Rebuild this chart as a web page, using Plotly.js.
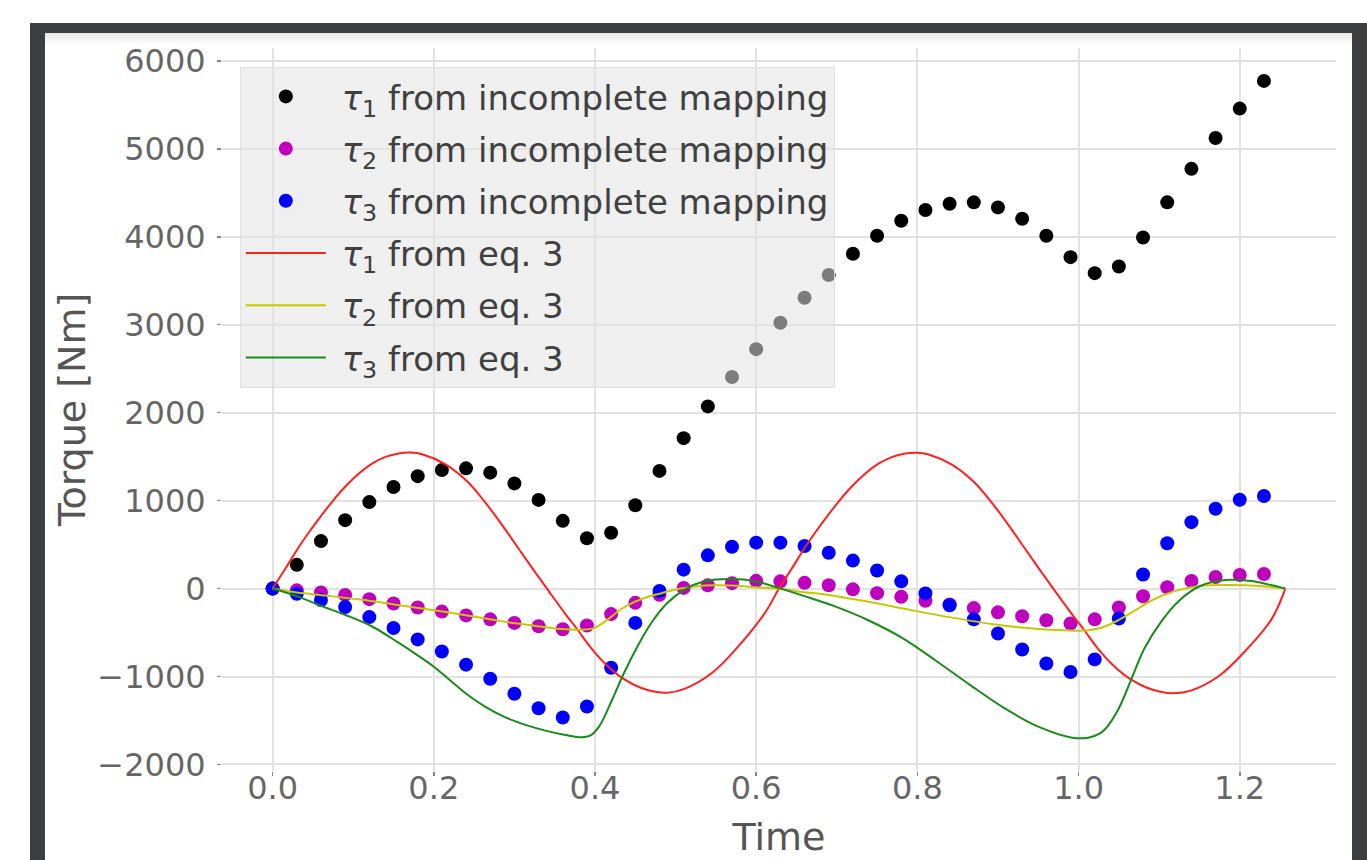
<!DOCTYPE html>
<html>
<head>
<meta charset="utf-8">
<script src="https://cdn.plot.ly/plotly-3.0.1.min.js"></script>
<style>
  html, body { margin: 0; padding: 0; background: #ffffff; width: 1367px; height: 860px; overflow: hidden; }
  #frame { position: absolute; left: 30px; top: 23px; width: 1337px; height: 837px; background: #3c3f42; }
  #inner { position: absolute; left: 45px; top: 33px; width: 1307px; height: 827px;
           background: linear-gradient(#e6e6e6 0px, #ffffff 12px); }
  #chart { position: absolute; left: 0; top: 0; width: 1367px; height: 860px; }
</style>
</head>
<body>
<div id="frame"></div>
<div id="inner"></div>
<div id="chart"></div>
<script>
// ---- scatter data: sample times every 0.03 s ----
const sampleTime = [0.00,0.03,0.06,0.09,0.12,0.15,0.18,0.21,0.24,0.27,0.30,0.33,0.36,0.39,0.42,0.45,0.48,0.51,0.54,0.57,0.60,0.63,0.66,0.69,0.72,0.75,0.78,0.81,0.84,0.87,0.90,0.93,0.96,0.99,1.02,1.05,1.08,1.11,1.14,1.17,1.20,1.23];
const tau1Incomplete = [0,270,540,778,983,1155,1278,1348,1367,1318,1196,1008,770,572,635,948,1338,1710,2071,2406,2722,3022,3307,3566,3806,4011,4182,4304,4376,4391,4334,4205,4011,3768,3586,3661,3992,4391,4772,5122,5457,5772];
const tau2Incomplete = [0,-20,-45,-72,-120,-170,-215,-262,-305,-350,-390,-428,-462,-420,-290,-162,-70,8,38,62,88,82,65,38,-9,-52,-94,-138,-180,-222,-270,-314,-360,-397,-350,-215,-88,15,86,131,154,165];
const tau3Incomplete = [0,-58,-130,-210,-324,-448,-578,-715,-865,-1026,-1195,-1360,-1465,-1340,-900,-390,-28,215,378,475,522,522,484,408,318,205,82,-55,-190,-350,-510,-692,-852,-948,-805,-340,160,515,755,908,1010,1052];

// ---- eq. 3 curves ----
const tau1EqTime = [0,0.0157,0.0323,0.0447,0.0571,0.0745,0.0903,0.1068,0.1234,0.14,0.1565,0.1715,0.1855,0.2145,0.2416,0.262,0.283,0.304,0.3243,0.345,0.365,0.3781,0.3955,0.4132,0.436,0.4567,0.4732,0.4897,0.511,0.545,0.578,0.611,0.6283,
  0.644,0.6606,0.673,0.6854,0.7028,0.7186,0.7351,0.7517,0.7683,0.7848,0.7998,0.8138,0.8428,0.8699,0.8903,0.9113,0.9323,0.9526,0.9733,0.9933,1.0064,1.0238,1.0415,1.0643,1.085,1.1015,1.118,1.1393,1.1733,1.2063,1.2393,1.2566];
const tau1Eq = [0,225,470,635,790,995,1160,1305,1420,1497,1537,1546,1527,1412,1217,1000,745,470,205,-60,-310,-465,-680,-860,-1030,-1127,-1170,-1185,-1140,-960,-655,-275,0,
  225,470,635,790,995,1160,1305,1420,1495,1535,1544,1525,1410,1215,1000,745,470,205,-60,-310,-465,-680,-860,-1030,-1127,-1172,-1190,-1160,-1000,-715,-350,0];

const tau2EqTime = [0,0.03,0.067,0.109,0.151,0.192,0.2416,0.283,0.3243,0.3574,0.3822,0.3988,0.4153,0.4318,0.4484,0.4649,0.4815,0.503,0.536,0.57,0.599,0.6283,
  0.657,0.686,0.739,0.792,0.845,0.897,0.950,0.990,1.012,1.030,1.045,1.066,1.093,1.119,1.151,1.188,1.225,1.2566];
const tau2Eq = [0,-45,-80,-125,-180,-235,-305,-370,-422,-460,-468,-450,-355,-238,-155,-95,-55,-5,35,34,15,0,
  -40,-67,-150,-245,-333,-409,-460,-478,-475,-440,-380,-270,-124,-29,29,40,29,0];

const tau3EqTime = [0,0.0325,0.0573,0.0904,0.1235,0.1566,0.1814,0.2,0.2186,0.2393,0.2641,0.2889,0.3137,0.3385,0.3634,0.38,0.395,0.405,0.42,0.436,0.453,0.47,0.49,0.511,0.536,0.57,0.599,0.6283,
  0.66,0.697,0.739,0.781,0.823,0.866,0.908,0.950,0.992,1.012,1.026,1.034,1.050,1.066,1.082,1.103,1.124,1.151,1.182,1.214,1.235,1.2566];
const tau3Eq = [0,-94,-187,-300,-431,-618,-768,-888,-1030,-1190,-1345,-1465,-1550,-1615,-1665,-1690,-1665,-1570,-1290,-960,-653,-389,-162,-11,83,109,83,5,
  -86,-200,-360,-560,-820,-1100,-1360,-1570,-1695,-1695,-1650,-1588,-1360,-1018,-676,-371,-143,29,97,86,48,0];

// ---- ticks and labels ----
const xTickVals = [0,0.2,0.4,0.6,0.8,1.0,1.2];
const xTickText = ["0.0","0.2","0.4","0.6","0.8","1.0","1.2"];
const yTickVals = [-2000,-1000,0,1000,2000,3000,4000,5000,6000];
const yTickText = ["\u22122000","\u22121000","0","1000","2000","3000","4000","5000","6000"];
const seriesNames = [
  "\u00A0<i>τ</i><sub>1</sub> from incomplete mapping",
  "\u00A0<i>τ</i><sub>2</sub> from incomplete mapping",
  "\u00A0<i>τ</i><sub>3</sub> from incomplete mapping",
  "\u00A0<i>τ</i><sub>1</sub> from eq. 3",
  "\u00A0<i>τ</i><sub>2</sub> from eq. 3",
  "\u00A0<i>τ</i><sub>3</sub> from eq. 3"
];

const F = "DejaVu Sans, Verdana, sans-serif";
const mk = (y, c, n, g) => ({x: sampleTime, y: y, type: 'scatter', mode: 'markers', name: n, legendgroup: g,
  marker: {color: c, size: 14, line: {width: 0}}});
const ln = (x, y, c, n, g) => ({x: x, y: y, type: 'scatter', mode: 'lines', name: n, legendgroup: g,
  line: {color: c, width: 2, shape: 'spline', smoothing: 1}});

const data = [
  mk(tau1Incomplete, '#000000', seriesNames[0], 'a'),
  mk(tau2Incomplete, '#bf00bf', seriesNames[1], 'b'),
  mk(tau3Incomplete, '#0000ff', seriesNames[2], 'c'),
  ln(tau1EqTime, tau1Eq, '#ff2020', seriesNames[3], 'd'),
  ln(tau2EqTime, tau2Eq, '#c8c800', seriesNames[4], 'e'),
  ln(tau3EqTime, tau3Eq, '#1a8a1a', seriesNames[5], 'f')
];

const axBase = {
  showgrid: true, gridcolor: '#e2e2e2', gridwidth: 2, zeroline: false, showline: false,
  ticks: 'outside', ticklen: 4, tickwidth: 1.5, tickcolor: '#888',
  tickfont: {family: F, size: 32, color: '#666666'}, tickmode: 'array'
};

const layout = {
  width: 1367, height: 860,
  paper_bgcolor: 'rgba(0,0,0,0)', plot_bgcolor: 'rgba(0,0,0,0)',
  margin: {l: 222, r: 31, t: 48, b: 89, pad: 0},
  showlegend: true,
  xaxis: Object.assign({}, axBase, {
    range: [-0.0628, 1.3194], tickvals: xTickVals, ticktext: xTickText, ticklabelstandoff: -15,
    title: {text: 'Time', font: {family: F, size: 38, color: '#555555'}, standoff: 16}
  }),
  yaxis: Object.assign({}, axBase, {
    range: [-2074, 6146], tickvals: yTickVals, ticktext: yTickText, ticklabelstandoff: 5,
    title: {text: 'Torque [Nm]', font: {family: F, size: 38, color: '#555555'}, standoff: 0}
  }),
  legend: {
    x: 0.016, y: 0.974, xanchor: 'left', yanchor: 'top',
    bgcolor: 'rgba(225,225,225,0.55)', bordercolor: '#e0e0e0', borderwidth: 1,
    font: {family: F, size: 34, color: '#404040'},
    traceorder: 'grouped', tracegroupgap: 5, itemwidth: 80
  }
};

Plotly.newPlot('chart', data, layout, {displayModeBar: false, staticPlot: true});
</script>
</body>
</html>
